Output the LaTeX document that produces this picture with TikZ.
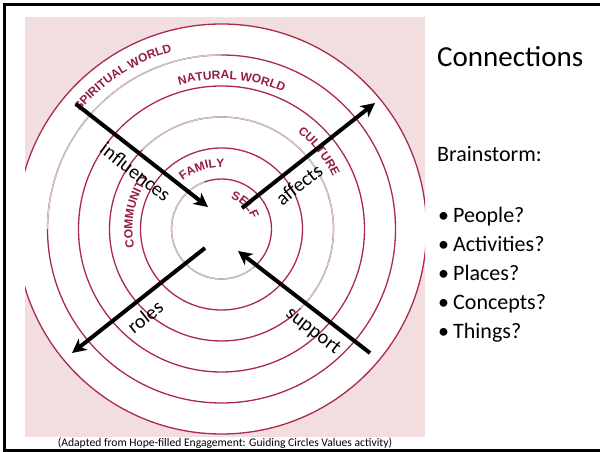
\documentclass[tikz,border=0pt]{standalone}
\usepackage{fontspec}
\setmainfont{Carlito}
\newfontfamily\ringfont{Liberation Sans}
\usetikzlibrary{arrows.meta,decorations.text}

\definecolor{bgpink}{RGB}{242,222,222}
\definecolor{ringred}{RGB}{172,40,78}
\definecolor{ringgray}{RGB}{205,205,205}
\definecolor{lblred}{RGB}{150,30,65}

\newcommand{\ringlbl}{\ringfont\bfseries\fontsize{12}{14}\selectfont}

\tikzset{
  ring/.style={draw=ringred, line width=1.3pt},
  ringfade/.style={draw=ringgray, line width=1.3pt},
  ringtext/.style={decorate, decoration={text along path, text align=center, text color=lblred}},
  bigarrow/.style={line width=4pt, -{Stealth[length=14pt,width=14pt,inset=4pt]}},
  arrlabel/.style={font=\fontsize{20}{24}\selectfont, sloped, below=7pt, inner sep=1pt},
  slidetext/.style={anchor=base west, inner sep=0pt, font=\fontsize{22}{26}\selectfont}
}

\begin{document}
\begin{tikzpicture}[x=1pt, y=1pt]
  \useasboundingbox (0,0) rectangle (600,452);
  \fill[white] (0,0) rectangle (600,452);

  \fill[bgpink] (25,15) rectangle (425,435);
  \coordinate (hub) at (221.5,223);

  \begin{scope}
    \clip (25,15) rectangle (425,435);
    \fill[white] (hub) circle[radius=205pt];
    \draw[ring] (hub) circle[radius=205pt];
    \draw[ring] (hub) circle[radius=174pt];
    \draw[ring] (hub) circle[radius=143pt];
    \draw[ring] (hub) circle[radius=112pt];
    \draw[ring] (hub) circle[radius=81pt];
    \draw[ring] (hub) circle[radius=50pt];

    \draw[ringfade] (hub) ++(90:174pt) arc[start angle=90, end angle=180, radius=174pt];
    \draw[ringfade] (hub) ++(135:112pt) arc[start angle=135, end angle=-45, radius=112pt];
    \draw[ringfade] (hub) ++(110:50pt) arc[start angle=110, end angle=315, radius=50pt];
  \end{scope}

  \path[ringtext, decoration={text={|\ringlbl|SPIRITUAL WORLD}}] (hub) ++(153:184pt) arc[start angle=153, end angle=93, radius=184pt];
  \path[ringtext, decoration={text={|\ringlbl|NATURAL WORLD}}] (hub) ++(121:150pt) arc[start angle=121, end angle=51, radius=150pt];
  \path[ringtext, decoration={text={|\ringlbl|CULTURE}}] (hub) ++(73:123pt) arc[start angle=73, end angle=4, radius=123pt];
  \path[ringtext, decoration={text={|\ringlbl|COMMUNITY}}] (hub) ++(218:89pt) arc[start angle=218, end angle=118, radius=89pt];
  \path[ringtext, decoration={text={|\ringlbl|FAMILY}}] (hub) ++(160:62pt) arc[start angle=160, end angle=56, radius=62pt];
  \path[ringtext, decoration={text={|\ringlbl|SELF}}] (hub) ++(110:32pt) arc[start angle=110, end angle=-18, radius=32pt];

  \coordinate (inf-a) at (76,348);
  \coordinate (inf-b) at (208,245);
  \coordinate (aff-a) at (242,244);
  \coordinate (aff-b) at (375,349);
  \coordinate (rol-a) at (205,204);
  \coordinate (rol-b) at (72,99);
  \coordinate (sup-a) at (370,99);
  \coordinate (sup-b) at (238,201);

  \draw[bigarrow] (inf-a) -- node[arrlabel, pos=0.53] {influences} (inf-b);
  \draw[bigarrow] (aff-a) -- node[arrlabel, pos=0.35] {affects} (aff-b);
  \draw[bigarrow] (rol-a) -- node[arrlabel, pos=0.53] {roles} (rol-b);
  \draw[bigarrow] (sup-a) -- node[arrlabel, pos=0.35] {support} (sup-b);

  \node[slidetext, font=\fontsize{29}{35}\selectfont] (title) at (437,385) {Connections};
  \node[slidetext] (brain) at (437,290) {Brainstorm:};
  \node[slidetext] (b1) at (438,229) {\makebox[15pt][l]{•}People?};
  \node[slidetext] (b2) at (438,200) {\makebox[15pt][l]{•}Activities?};
  \node[slidetext] (b3) at (438,171) {\makebox[15pt][l]{•}Places?};
  \node[slidetext] (b4) at (438,142) {\makebox[15pt][l]{•}Concepts?};
  \node[slidetext] (b5) at (438,113) {\makebox[15pt][l]{•}Things?};

  \node[anchor=base, inner sep=0pt, font=\fontsize{11.6}{13}\selectfont] (src) at (225,5) {(Adapted from Hope-filled Engagement: Guiding Circles Values activity)};

  \draw[line width=3pt] (600,447.5) -- (4.5,447.5) -- (4.5,1.5) -- (600,1.5);
\end{tikzpicture}
\end{document}
